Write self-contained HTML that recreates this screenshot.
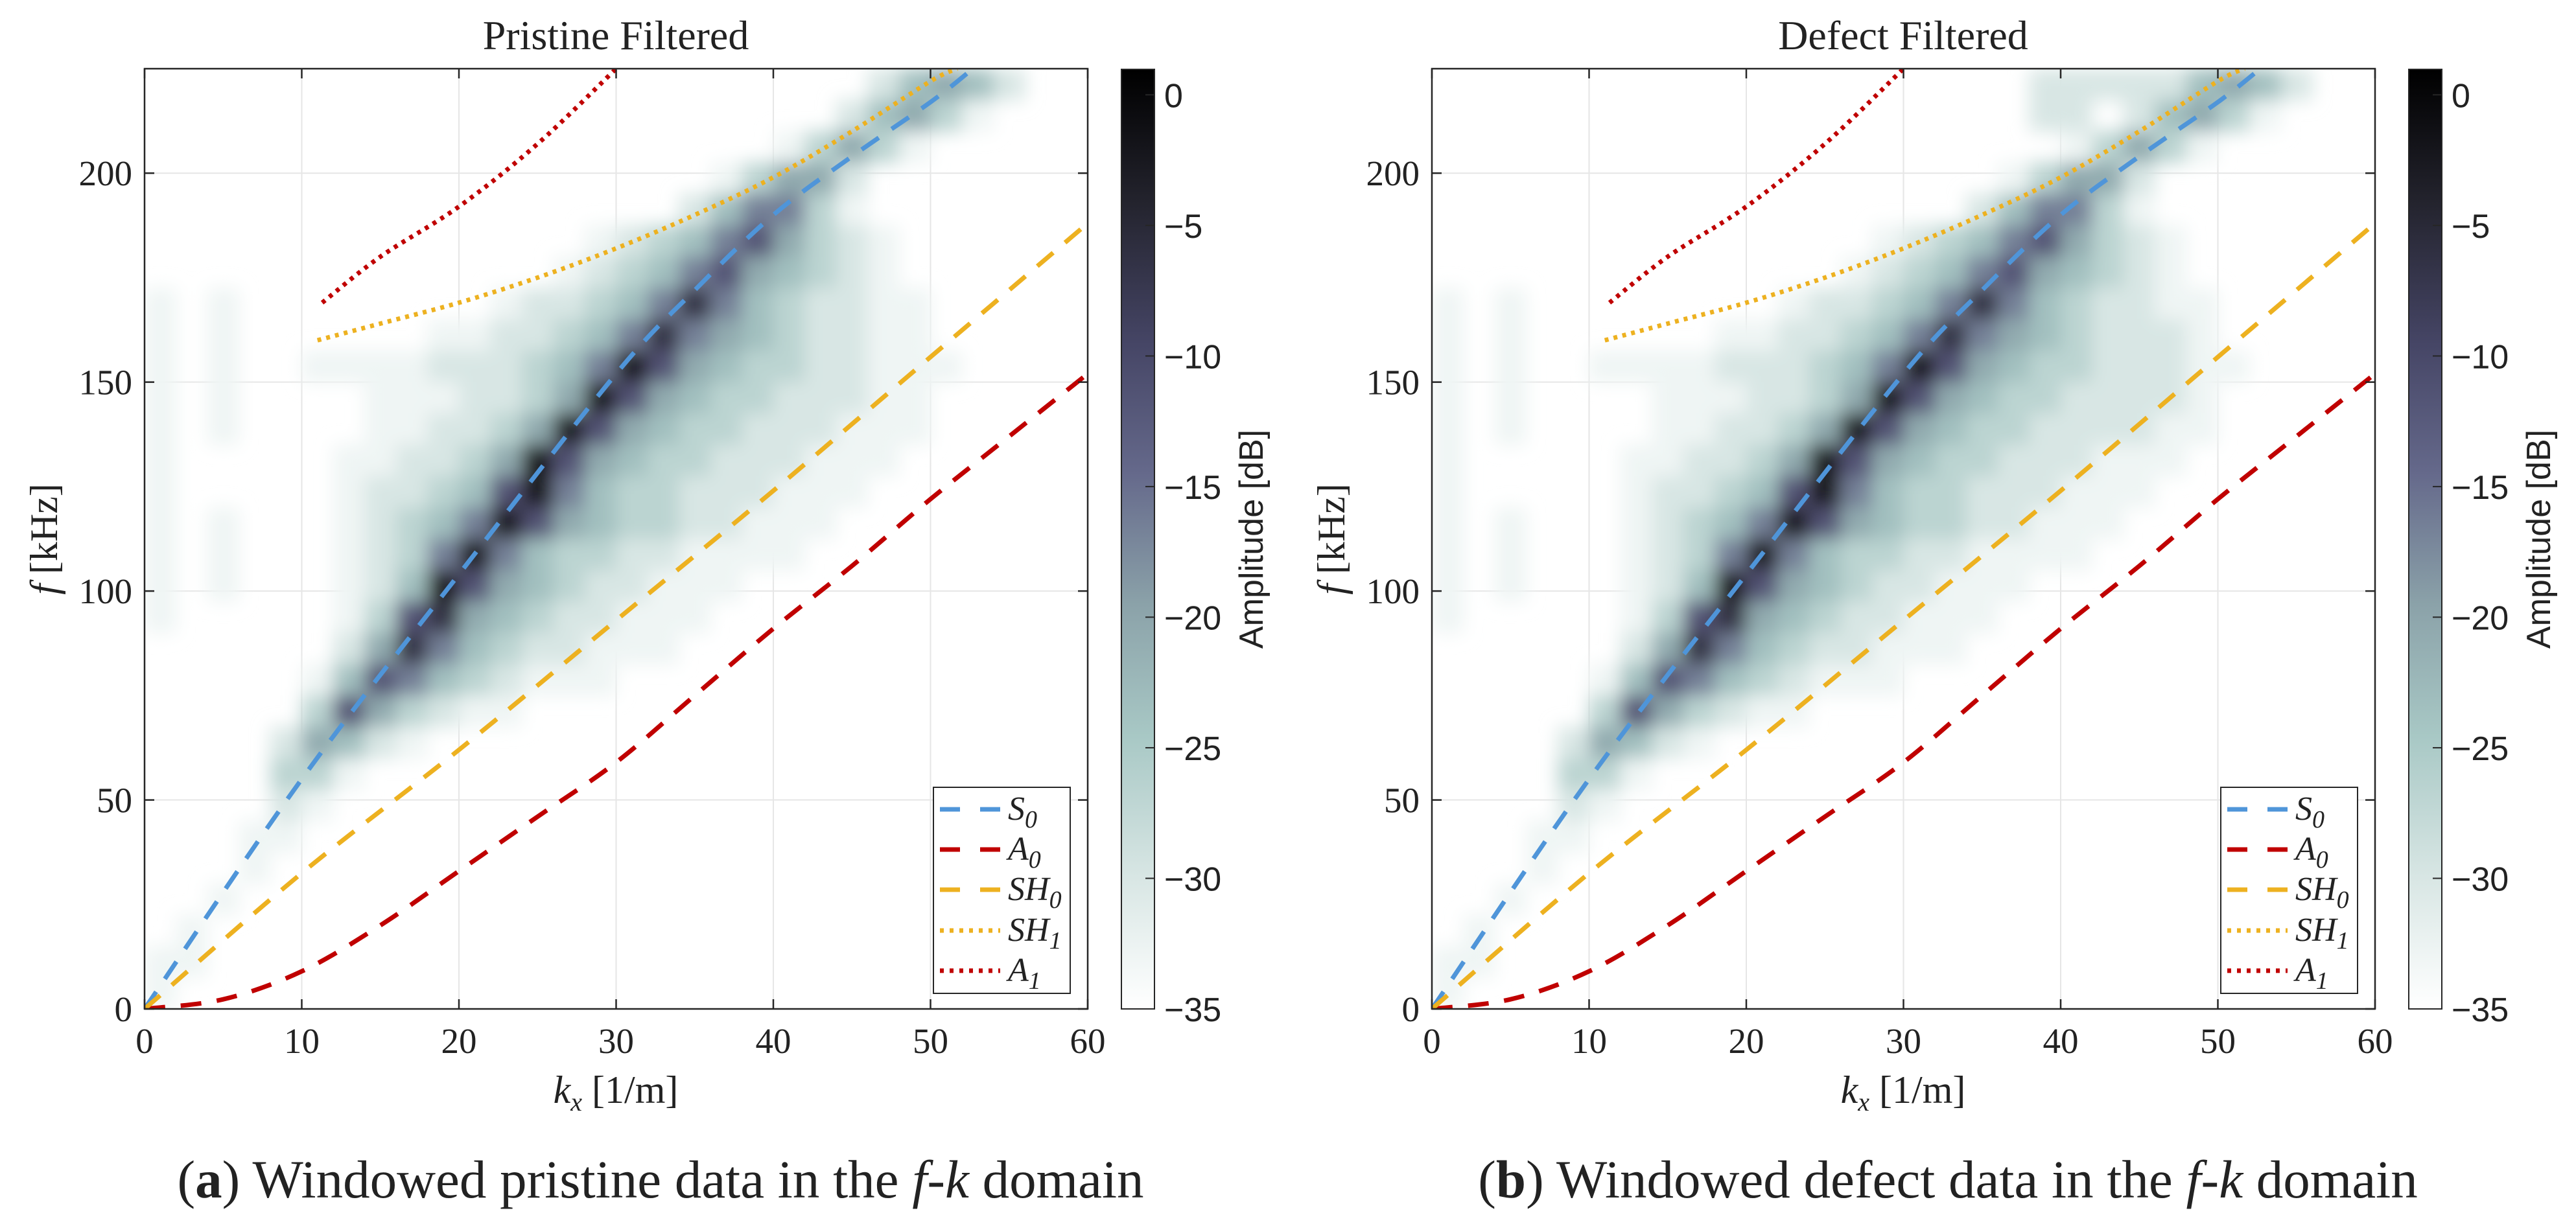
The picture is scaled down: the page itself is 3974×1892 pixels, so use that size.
<!DOCTYPE html>
<html><head><meta charset="utf-8"><style>
html,body{margin:0;padding:0;background:#fff;}
svg{display:block;}
.serif{font-family:"Liberation Serif",serif;fill:#222;}
.sans{font-family:"Liberation Sans",sans-serif;fill:#222;}
</style></head><body>
<svg id="fig" width="3974" height="1892" viewBox="0 0 3974 1892" xmlns="http://www.w3.org/2000/svg">
<defs>
<filter id="soft" x="-5%" y="-5%" width="110%" height="110%"><feGaussianBlur stdDeviation="14"/></filter>
<linearGradient id="cmap" x1="0" y1="1" x2="0" y2="0">
<stop offset="0" stop-color="#ffffff"/><stop offset="0.14" stop-color="#d8e6e4"/><stop offset="0.29" stop-color="#a8c8c5"/>
<stop offset="0.43" stop-color="#8ba2a9"/><stop offset="0.57" stop-color="#65698b"/><stop offset="0.71" stop-color="#454565"/>
<stop offset="0.86" stop-color="#23232d"/><stop offset="1" stop-color="#000000"/></linearGradient>
<clipPath id="clipA"><rect x="223" y="106" width="1455" height="1451"/></clipPath>
<clipPath id="clipB"><rect x="2209" y="106" width="1455" height="1451"/></clipPath>
</defs>
</svg>
<script>
// ---- data ----
const xTicks=[0,10,20,30,40,50,60];
const yTicks=[0,50,100,150,200];
const cbTicks=[0,-5,-10,-15,-20,-25,-30,-35];
const levelDb=[-35,-33,-30,-27,-24,-21,-17,-12,-7,-2];
const gridPristine=["23:24542","22:24531","20:13531","18:13552","17:246631","14:1234675321","13:12346754321",
"0:1 2:1 11:12234686432211","0:1 2:1 9:1122346865432211","0:1 2:1 5:111122234697543322111","0:1 2:1 7:111223597543322211",
"0:1 2:1 7:112235975433222111","0:1 6:112235975433222111","0:1 6:12234796433222111","0:1 2:1 6:1234697543322111",
"0:1 2:1 6:123696433221111","0:1 2:1 6:1249754322111","0:1 6:137854322111","6:25864322111","5:1476432111","5:3753211",
"4:25421","4:331","4:21","3:11","3:1","2:1","1:1","0:11","0:1"];
const gridDefect=["19:2222 23:24542","19:22 22:24531","20:13531","18:13552","17:246631","14:1234675321","13:12346754321",
"0:1 2:1 11:12234686432211","0:1 2:1 9:1122346865432221","0:1 2:1 5:111122234697543322211","0:1 2:1 7:111223597543322221",
"0:1 2:1 7:112235975433222211","0:1 6:112235975433222111","0:1 6:12234796433222111","0:1 2:1 6:1234697543322111",
"0:1 2:1 6:123696433221111","0:1 2:1 6:1249754322111","0:1 6:137854322111","6:25864322111","5:1476432111","5:3753211",
"4:25421","4:331","4:21","3:11","3:1","2:1","1:1","0:11","0:1"];
const s0K=[0,10,20,30,35,40,45,50,52.7];
const s0F=[0,55,104,152,172,190,204,217,225];
const a0K=[0,5,10,15,20,25,30,35,40,45,50,55,60];
const a0F=[0,2.3,9,20,33,46,59,75,91,106,122,137,152];
const sh0K=[0,10,20,30,40,50,60];
const sh0F=[0,32.5,62,93,124,156,188];
const sh1K=[11,15,20,25,30,35,40,45,50,51.7];
const sh1F=[160,164,169,175,182,190,199,210,222,225];
const a1K=[11.3,15,20,25,30];
const a1F=[169,180,192,207,225];
const panels=[{ox:0,title:"Pristine Filtered",grid:gridPristine,lab:"a",cap:" Windowed pristine data in the ",clip:"clipA"},
{ox:1986,title:"Defect Filtered",grid:gridDefect,lab:"b",cap:" Windowed defect data in the ",clip:"clipB"}];
// ---- geometry ----
const L=223,R=1678,T=106,B=1557,KMAX=60,FMAX=225,CB0=1730,CB1=1781,DBMAX=1,DBMIN=-35;
const NS="http://www.w3.org/2000/svg";
const svg=document.getElementById('fig');
function mk(tag,attrs,parent){const e=document.createElementNS(NS,tag);for(const k in attrs)e.setAttribute(k,attrs[k]);(parent||svg).appendChild(e);return e;}
function cmap(db){const stops=[[-35,[255,255,255]],[-30,[216,230,228]],[-25,[168,200,197]],[-20,[139,162,169]],[-15,[101,105,139]],[-10,[69,69,101]],[-5,[35,35,45]],[1,[0,0,0]]];
 for(let i=0;i<stops.length-1;i++){const a=stops[i],b=stops[i+1];if(db<=b[0]){const t=Math.max(0,(db-a[0])/(b[0]-a[0]));const c=a[1].map((v,j)=>Math.round(v+(b[1][j]-v)*t));return `rgb(${c})`;}}return '#000';}
function smoothPath(P){let d=`M${P[0][0]},${P[0][1]}`;
 for(let i=0;i<P.length-1;i++){const p0=P[Math.max(0,i-1)],p1=P[i],p2=P[i+1],p3=P[Math.min(P.length-1,i+2)];
  const c1=[p1[0]+(p2[0]-p0[0])/6,p1[1]+(p2[1]-p0[1])/6],c2=[p2[0]-(p3[0]-p1[0])/6,p2[1]-(p3[1]-p1[1])/6];
  d+=` C${c1[0]},${c1[1]} ${c2[0]},${c2[1]} ${p2[0]},${p2[1]}`;}return d;}
panels.forEach((p,pi)=>{
 const X=k=>p.ox+L+k*(R-L)/KMAX, Y=f=>B-f*(B-T)/FMAX, CY=d=>B-(d-DBMIN)*(B-T)/(DBMAX-DBMIN);
 const g=mk('g',{});
 
 
 const title=mk('text',{x:p.ox+950,y:76,'text-anchor':'middle','font-size':64,class:'serif'},g);title.textContent=p.title;
 
 
 xTicks.forEach(v=>{const l=mk('line',{x1:X(v),x2:X(v),y1:T,y2:B,stroke:'#e6e6e6','stroke-width':2},g);
  
  });
 yTicks.forEach(v=>{const l=mk('line',{x1:X(0),x2:X(KMAX),y1:Y(v),y2:Y(v),stroke:'#e6e6e6','stroke-width':2},g);
  
  });
 const hm=mk('g',{'clip-path':`url(#${p.clip})`},g);
 
 
 const hb=mk('g',{filter:'url(#soft)'},hm);
 const nRows=p.grid.length, dk=2, df=FMAX/nRows;
 p.grid.forEach((row,r)=>{row.split(' ').forEach(seg=>{const [s,v]=seg.split(':');const st=+s;
  for(let j=0;j<v.length;j++){const lv=+v[j];if(!lv)continue;const c=st+j;
   const rc=mk('rect',{x:X(c*dk),y:Y(FMAX-r*df),width:X(dk)-X(0)+0.5,height:Y(0)-Y(df)+0.5,fill:cmap(levelDb[lv])},hb);
   
   }});});
 const curves=[[s0K,s0F,'#4f95d9','32 24','s0-curve'],[a0K,a0F,'#c00000','32 24','a0-curve'],[sh0K,sh0F,'#edb120','32 24','sh0-curve'],
  [sh1K,sh1F,'#edb120','6 8','sh1-curve'],[a1K,a1F,'#c00000','6 8','a1-curve']];
 curves.forEach(cv=>{const P=cv[0].map((k,i)=>[X(k),Y(cv[1][i])]);
  const pl=mk('path',{d:smoothPath(P),fill:'none',stroke:cv[2],'stroke-width':7,'stroke-dasharray':cv[3]},hm);
  
  });
 const box=mk('rect',{x:X(0),y:T,width:R-L,height:B-T,fill:'none',stroke:'#262626','stroke-width':2.5},g);
 
 
 xTicks.forEach(v=>{mk('line',{x1:X(v),x2:X(v),y1:B,y2:B-15,stroke:'#262626','stroke-width':2.5},g);mk('line',{x1:X(v),x2:X(v),y1:T,y2:T+15,stroke:'#262626','stroke-width':2.5},g);
  const t=mk('text',{x:X(v),y:1625,'text-anchor':'middle','font-size':55,class:'serif'},g);t.textContent=v;
  
  });
 yTicks.forEach(v=>{mk('line',{x1:X(0),x2:X(0)+15,y1:Y(v),y2:Y(v),stroke:'#262626','stroke-width':2.5},g);mk('line',{x1:X(KMAX),x2:X(KMAX)-15,y1:Y(v),y2:Y(v),stroke:'#262626','stroke-width':2.5},g);
  const t=mk('text',{x:p.ox+204,y:Y(v)+19,'text-anchor':'end','font-size':55,class:'serif'},g);t.textContent=v;
  
  });
 const xl=mk('text',{x:p.ox+950,y:1702,'text-anchor':'middle','font-size':60,class:'serif'},g);
 xl.innerHTML='<tspan font-style="italic">k</tspan><tspan font-style="italic" font-size="40" dy="12">x</tspan><tspan dy="-12"> [1/m]</tspan>';
 
 
 const yl=mk('text',{x:0,y:0,'text-anchor':'middle','font-size':60,class:'serif',transform:`translate(${p.ox+88},832) rotate(-90)`},g);
 yl.innerHTML='<tspan font-style="italic">f</tspan> [kHz]';
 
 
 const lg=mk('g',{},g);
 
 
 mk('rect',{x:p.ox+1440,y:1215,width:211,height:318,fill:'#fff',stroke:'#262626','stroke-width':2},lg);
 const labs=[['S','0'],['A','0'],['SH','0'],['SH','1'],['A','1']];
 const ly=[1249,1311,1373,1436,1498];
 curves.forEach((cv,i)=>{const ln=mk('line',{x1:p.ox+1450,x2:p.ox+1543,y1:ly[i],y2:ly[i],stroke:cv[2],'stroke-width':7,'stroke-dasharray':cv[3]==='6 8'?'6 9':'31 31'},lg);
  
  
  const t=mk('text',{x:p.ox+1555,y:ly[i]+16,'font-size':52,'font-style':'italic',class:'serif'},lg);
  t.innerHTML=labs[i][0]+'<tspan font-size="38" dy="12">'+labs[i][1]+'</tspan>';
  
  });
 const cb=mk('g',{},g);
 
 
 mk('rect',{x:p.ox+CB0,y:T+1,width:CB1-CB0,height:B-T-1,fill:'url(#cmap)',stroke:'#262626','stroke-width':2},cb);
 cbTicks.forEach(v=>{mk('line',{x1:p.ox+CB1,x2:p.ox+CB1-14,y1:CY(v),y2:CY(v),stroke:'#262626','stroke-width':2},cb);
  const t=mk('text',{x:p.ox+1796,y:CY(v)+19,'font-size':52,class:'sans'},cb);t.textContent=v<0?'\u2212'+(-v):String(v);
  
  });
 const cl=mk('text',{x:0,y:0,'text-anchor':'middle','font-size':52,class:'sans',transform:`translate(${p.ox+1948},832) rotate(-90)`},cb);cl.textContent='Amplitude [dB]';
 
 
 const cap=mk('text',{x:p.ox+1019,y:1848,'text-anchor':'middle','font-size':83,class:'serif'},g);
 cap.innerHTML='(<tspan font-weight="bold">'+p.lab+'</tspan>)'+p.cap+'<tspan font-style="italic">f</tspan>-<tspan font-style="italic">k</tspan> domain';
 
 
});
</script>
</body></html>
